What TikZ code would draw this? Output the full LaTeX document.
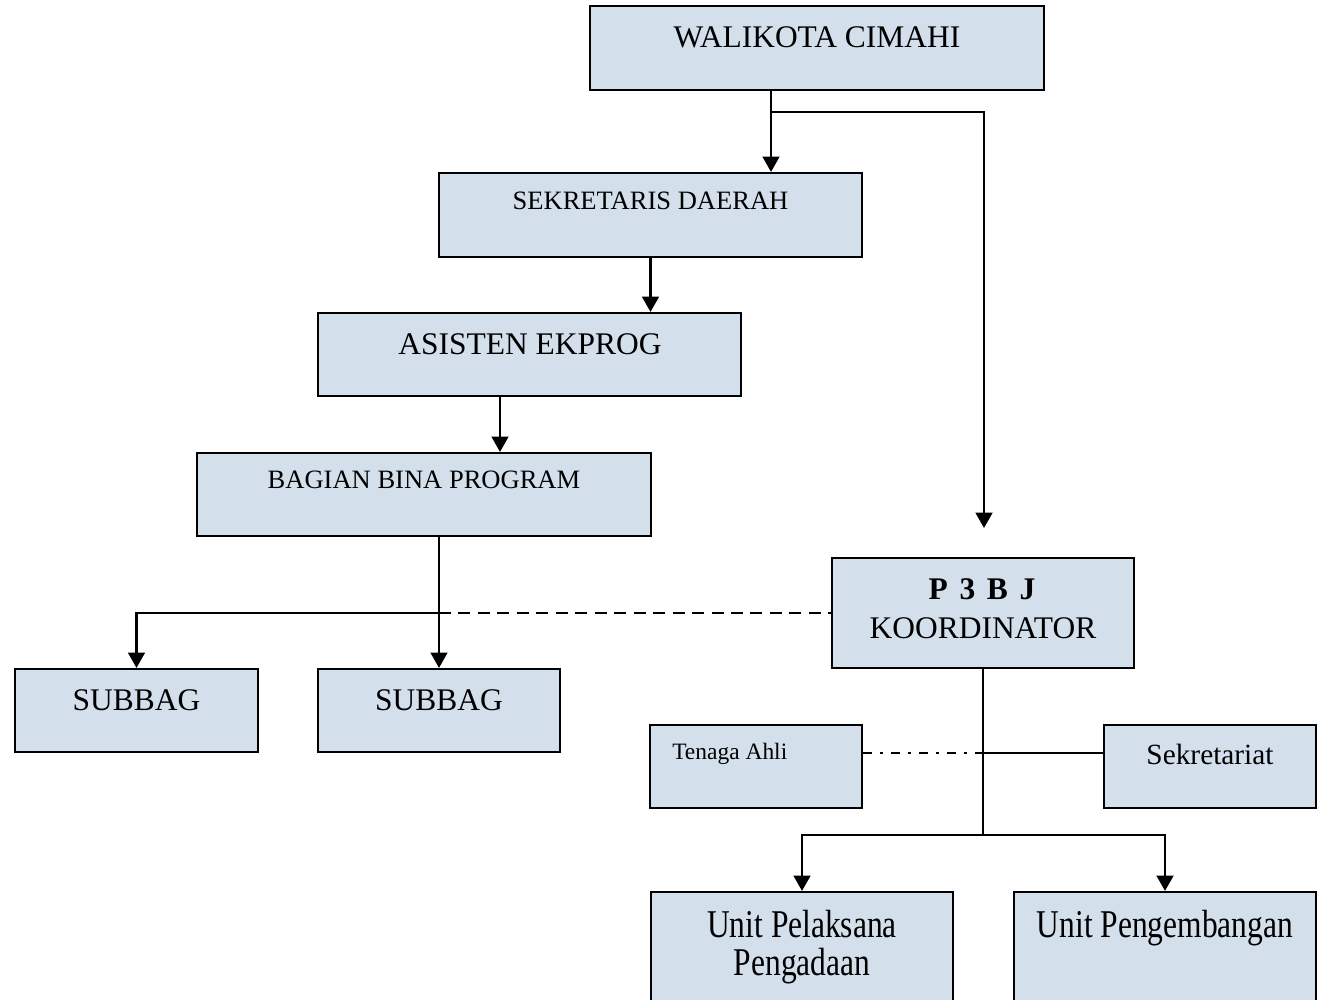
\documentclass[tikz,border=0pt]{standalone}
\usepackage{fontspec}
\setmainfont{Liberation Serif}
\usetikzlibrary{arrows.meta}
\definecolor{boxfill}{RGB}{211,223,235}
\tikzset{
  box/.style={rectangle, draw=black, fill=boxfill, line width=1.6pt, inner sep=0pt},
  conn/.style={line width=1.9pt, draw=black},
  arr/.style={conn, -{Triangle[width=12.5pt,length=11.5pt]}},
  dline/.style={conn, line width=2.1pt, dash pattern=on 9pt off 5.6pt},
  ddline/.style={conn, line width=2.1pt, dash pattern=on 7pt off 6pt on 2pt off 6pt},
  bigtxt/.style={anchor=base, inner sep=0pt, font=\fontsize{23.6pt}{27pt}\selectfont},
  smalltxt/.style={anchor=base, inner sep=0pt, font=\fontsize{19.9pt}{23pt}\selectfont},
}
\begin{document}
\begin{tikzpicture}[x=0.75pt, y=-0.75pt]
\useasboundingbox (0,0) rectangle (1322,1000);
% boxes
\node[box, minimum width={454*0.75pt}, minimum height={84*0.75pt}] (walikota) at (817,48) {};
\node[box, minimum width={423*0.75pt}, minimum height={84*0.75pt}] (sekda) at (650.5,215) {};
\node[box, minimum width={423*0.75pt}, minimum height={83*0.75pt}] (asisten) at (529.5,354.5) {};
\node[box, minimum width={454*0.75pt}, minimum height={83*0.75pt}] (bagian) at (424,494.5) {};
\node[box, minimum width={302*0.75pt}, minimum height={110*0.75pt}] (p3bj) at (983,613) {};
\node[box, minimum width={243*0.75pt}, minimum height={83*0.75pt}] (subbag1) at (136.5,710.5) {};
\node[box, minimum width={242*0.75pt}, minimum height={83*0.75pt}] (subbag2) at (439,710.5) {};
\node[box, minimum width={212*0.75pt}, minimum height={83*0.75pt}] (tenaga) at (756,766.5) {};
\node[box, minimum width={212*0.75pt}, minimum height={83*0.75pt}] (sekret) at (1210,766.5) {};
\node[box, minimum width={302*0.75pt}, minimum height={120*0.75pt}] (upp) at (802,952) {};
\node[box, minimum width={302*0.75pt}, minimum height={120*0.75pt}] (upg) at (1165,952) {};
% labels
\node[bigtxt] (lwal) at (817,47) {WALIKOTA CIMAHI};
\node[smalltxt] (lsek) at (650.5,209) {SEKRETARIS DAERAH};
\node[bigtxt] (lasi) at (530,354) {ASISTEN EKPROG};
\node[smalltxt] (lbag) at (424,488) {BAGIAN BINA PROGRAM};
\node[bigtxt, font=\fontsize{23.6pt}{27pt}\selectfont\bfseries] (lp3) at (982,599) {P\hspace{8.8pt}3\hspace{8.8pt}B\hspace{8.8pt}J};
\node[bigtxt] (lkoor) at (983,638) {KOORDINATOR};
\node[bigtxt] (lsub1) at (136.5,710) {SUBBAG};
\node[bigtxt] (lsub2) at (439,710) {SUBBAG};
\node[anchor=base west, inner sep=0pt, font=\fontsize{17.6pt}{20pt}\selectfont] (lten) at (672,759) {Tenaga Ahli};
\node[anchor=base, inner sep=0pt, font=\fontsize{22pt}{25pt}\selectfont] (lsekt) at (1210,764) {Sekretariat};
\node[bigtxt] (lupp) at (802,937) {\scalebox{1}[1.25]{\fontsize{23.6pt}{22.8pt}\selectfont\begin{tabular}[t]{@{}c@{}}Unit Pelaksana\\Pengadaan\end{tabular}}};
\node[bigtxt] (lupg) at (1165,937) {\scalebox{1}[1.25]{Unit Pengembangan}};
% helper coordinates
\coordinate (wx) at (771,0);
\coordinate (br) at (771,112);
\coordinate (p3end) at (984,528);
\coordinate (ax) at (500,0);
\coordinate (hub) at (983,835);
\coordinate (mid) at (983,753);
% connectors
\draw[arr] (walikota.south -| wx) -- (sekda.north -| wx);
\draw[arr] (br) -| (p3end);
\draw[arr] (sekda.south) -- (asisten.north -| sekda.south);
\draw[arr] (asisten.south -| ax) -- (bagian.north -| ax);
\draw[arr] (bagian.south -| subbag2.north) -- (subbag2.north);
\draw[arr] (subbag2.north |- p3bj.west) -| (subbag1.north);
\draw[dline] (subbag2.north |- p3bj.west) -- (p3bj.west);
\draw[conn] (p3bj.south) -- (hub);
\draw[arr] (hub) -| (upp.north);
\draw[arr] (hub) -| (upg.north);
\draw[ddline] (tenaga.east |- mid) -- (mid);
\draw[conn] (mid) -- (sekret.west |- mid);
\end{tikzpicture}
\end{document}
